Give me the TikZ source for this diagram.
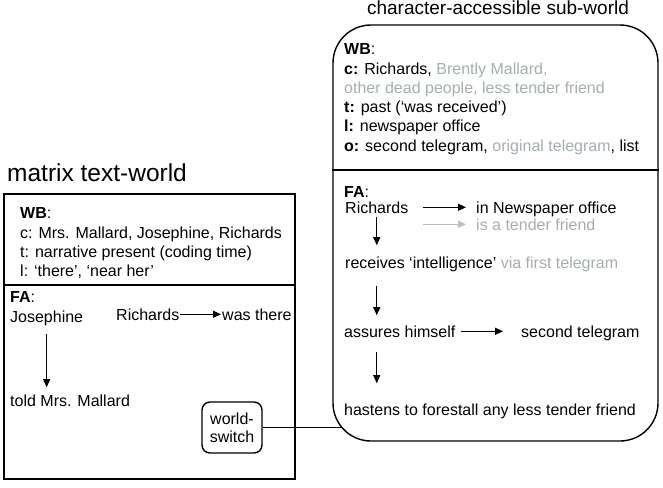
\documentclass[tikz,border=0pt]{standalone}
\usepackage{fontspec}
\setmainfont{Liberation Sans}
\usepackage{xcolor}
\usetikzlibrary{arrows.meta,shadows}
\definecolor{fadegray}{RGB}{165,176,172}
\newcommand{\fd}[1]{\textcolor{fadegray}{#1}}
\tikzset{
  world/.style={draw=black, fill=white, line width=1.4pt, inner sep=0pt},
  txt/.style={anchor=base west, inner sep=0pt, font=\fontsize{16}{19.3}\selectfont},
  block/.style={anchor=north west, inner sep=0pt, align=left, font=\fontsize{16}{19.3}\selectfont},
  arr/.style={-{Triangle[length=8pt,width=7pt]}, line width=1.2pt, black},
  farr/.style={arr, draw=fadegray!80},
  link/.style={line width=1.2pt, black},
}
\begin{document}
\begin{tikzpicture}[x=1pt,y=-1pt]
\useasboundingbox (0,0) rectangle (663,487);
% matrix text-world
\node[txt, font=\fontsize{24.5}{28}\selectfont] (mtwtitle) at (7,181) {matrix text-world};
\node[world, minimum width=291pt, minimum height=285pt,
      drop shadow={shadow xshift=1.2pt, shadow yshift=-1.2pt, fill=black!35}] (mtw) at (149.5,336.5) {};
\draw[world] (mtw.west |- 0,285) -- (mtw.east |- 0,285);
\node[block] (wbl) at (20,207.5) {\textbf{WB}:\\
  c: Mrs. Mallard, Josephine, Richards\\
  t: narrative present (coding time)\\
  l: ‘there’, ‘near her’};
\node[txt] (fal)   at (10,302)  {\textbf{FA}:};
\node[txt] (jos)   at (10,322)  {Josephine};
\node[txt] (richl) at (116,320) {Richards};
\node[txt] (there) at (222,320) {was there};
\node[txt] (told)  at (10,406)  {told Mrs. Mallard};
\node[world, rounded corners=8pt, minimum width=60pt, minimum height=51pt, align=center,
      font=\fontsize{16}{18}\selectfont] (ws) at (232,427.5) {world-\\switch};
\draw[arr, shorten >=1pt] (richl.east) -- (richl.east -| there.west);
\draw[arr, shorten <=8pt, shorten >=7pt] (jos.south) -- (jos.south |- told.north);
% character-accessible sub-world
\node[anchor=base, inner sep=0pt, font=\fontsize{19}{22}\selectfont] (subtitle) at (498,15) {character-accessible sub-world};
\node[world, rounded corners=38pt, minimum width=325pt, minimum height=416pt] (sub) at (495.5,233) {};
\draw[world] (sub.west |- 0,170) -- (sub.east |- 0,170);
\node[block] (wbr) at (344,43.5) {\textbf{WB}:\\
  \textbf{c:} Richards, \fd{Brently Mallard,}\\
  \fd{other dead people, less tender friend}\\
  \textbf{t:} past (‘was received’)\\
  \textbf{l:} newspaper office\\
  \textbf{o:} second telegram, \fd{original telegram}, list};
\node[txt] (far)    at (344,197) {\textbf{FA}:};
\node[txt] (richr)  at (345,213) {Richards};
\node[txt] (office) at (476,213) {in Newspaper office};
\node[txt, text=fadegray] (tender) at (476,230) {is a tender friend};
\node[txt] (recv)   at (345,268) {receives ‘intelligence’ \fd{via first telegram}};
\node[txt] (assure) at (344,337) {assures himself};
\node[txt] (second) at (521,337) {second telegram};
\node[txt] (hasten) at (344,415) {hastens to forestall any less tender friend};
\draw[arr, shorten <=14pt, shorten >=10pt] (richr.east) -- (richr.east -| office.west);
\draw[farr, shorten <=14pt, shorten >=10pt] (richr.east |- tender.west) -- (tender.west);
\draw[arr, shorten <=4pt, shorten >=11pt] (richr.south) -- (richr.south |- recv.north);
\draw[arr, shorten <=14pt, shorten >=10pt] (richr.south |- recv.south) -- (richr.south |- assure.north);
\draw[arr, shorten <=15pt, shorten >=20pt] (richr.south |- assure.south) -- (richr.south |- hasten.north);
\draw[arr, shorten <=5pt, shorten >=18pt] (assure.east) -- (assure.east -| second.west);
% world-switch link
\coordinate (swin) at (342,428);
\draw[link] (ws.east) -- (ws.east -| swin);
\end{tikzpicture}
\end{document}
